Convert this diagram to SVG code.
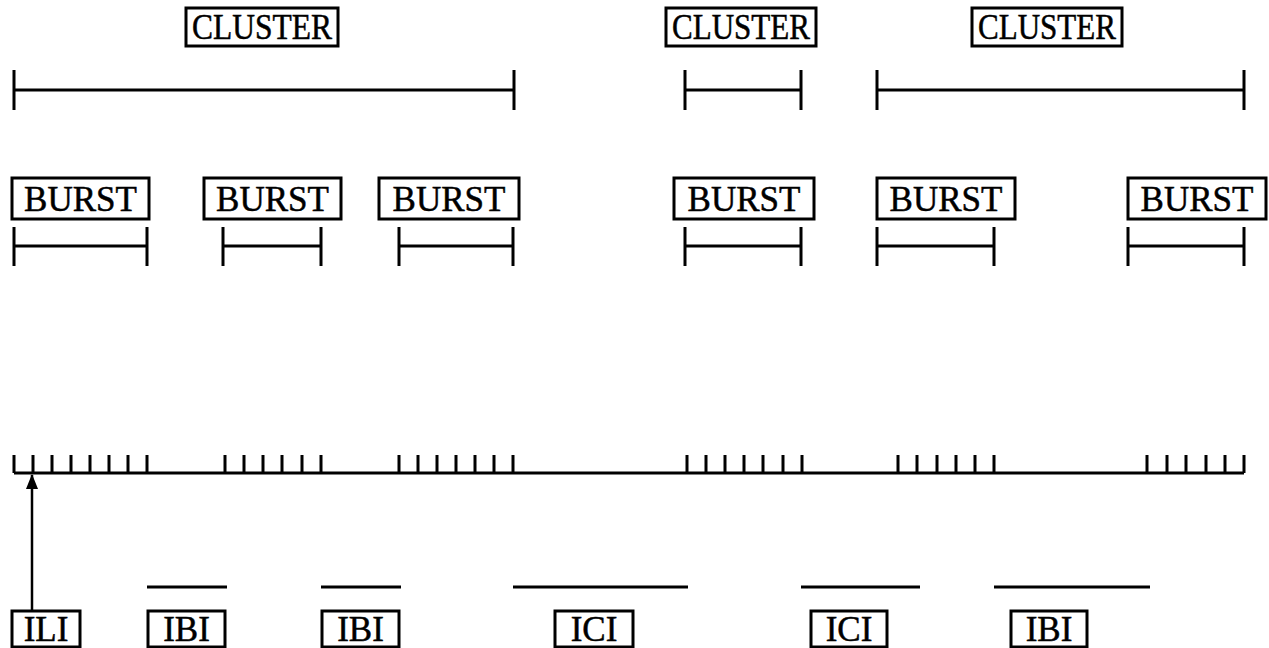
<svg xmlns="http://www.w3.org/2000/svg" width="1269" height="648" viewBox="0 0 1269 648">
<defs>
<style>
.box{fill:#fff;stroke:#000;stroke-width:3}
.lbl{font-family:"Liberation Serif","Times New Roman",serif;font-size:35px;fill:#000;stroke:#000;stroke-width:0.5;text-anchor:middle}
.ln{stroke:#000;stroke-width:3;fill:none}
</style>
<marker id="arr" viewBox="0 0 15 12" refX="14" refY="6" markerWidth="15" markerHeight="12" markerUnits="userSpaceOnUse" orient="auto">
<path d="M0,0 L15,6 L0,12 Z" fill="#000"/>
</marker>
</defs>
<rect width="1269" height="648" fill="#fff"/>

<g id="cluster1"><rect class="box" x="186" y="8" width="152" height="38"/><text class="lbl" x="262" y="39" textLength="140" lengthAdjust="spacingAndGlyphs">CLUSTER</text></g>
<g id="cluster2"><rect class="box" x="666" y="8" width="150" height="38"/><text class="lbl" x="741" y="39" textLength="138" lengthAdjust="spacingAndGlyphs">CLUSTER</text></g>
<g id="cluster3"><rect class="box" x="972" y="8" width="150" height="38"/><text class="lbl" x="1047" y="39" textLength="138" lengthAdjust="spacingAndGlyphs">CLUSTER</text></g>

<g id="burst1"><rect class="box" x="12" y="178" width="137" height="41"/><text class="lbl" x="80.5" y="211">BURST</text></g>
<g id="burst2"><rect class="box" x="204" y="178" width="137" height="41"/><text class="lbl" x="272.5" y="211">BURST</text></g>
<g id="burst3"><rect class="box" x="379" y="178" width="140" height="41"/><text class="lbl" x="449" y="211">BURST</text></g>
<g id="burst4"><rect class="box" x="674" y="178" width="140" height="41"/><text class="lbl" x="744" y="211">BURST</text></g>
<g id="burst5"><rect class="box" x="877" y="178" width="138" height="41"/><text class="lbl" x="946" y="211">BURST</text></g>
<g id="burst6"><rect class="box" x="1128" y="178" width="138" height="41"/><text class="lbl" x="1197" y="211">BURST</text></g>

<g id="ili"><rect class="box" x="12" y="611" width="68" height="36"/><text class="lbl" x="46" y="641">ILI</text></g>
<g id="ibi1"><rect class="box" x="148" y="611" width="77" height="36"/><text class="lbl" x="186.5" y="641">IBI</text></g>
<g id="ibi2"><rect class="box" x="322" y="611" width="77" height="36"/><text class="lbl" x="360.5" y="641">IBI</text></g>
<g id="ici1"><rect class="box" x="555" y="611" width="78" height="36"/><text class="lbl" x="594" y="641">ICI</text></g>
<g id="ici2"><rect class="box" x="811" y="611" width="76" height="36"/><text class="lbl" x="849" y="641">ICI</text></g>
<g id="ibi3"><rect class="box" x="1011" y="611" width="76" height="36"/><text class="lbl" x="1049" y="641">IBI</text></g>

<g id="connectors">
<path class="ln" d="M14,70 V110 M14,90 H514 M514,70 V110"/>
<path class="ln" d="M685,70 V110 M685,90 H801 M801,70 V110"/>
<path class="ln" d="M877,70 V110 M877,90 H1244 M1244,70 V110"/>
<path class="ln" d="M14,227 V266 M14,246 H147 M147,227 V266"/>
<path class="ln" d="M223,227 V266 M223,246 H321 M321,227 V266"/>
<path class="ln" d="M399,227 V266 M399,246 H513 M513,227 V266"/>
<path class="ln" d="M685,227 V266 M685,246 H801 M801,227 V266"/>
<path class="ln" d="M877,227 V266 M877,246 H994 M994,227 V266"/>
<path class="ln" d="M1128,227 V266 M1128,246 H1244 M1244,227 V266"/>
<path class="ln" d="M14,473 H1244"/>
<path class="ln" d="M14,455V473 M33,455V473 M52,455V473 M71,455V473 M90,455V473 M109,455V473 M128,455V473 M147,455V473
M225,455V473 M244,455V473 M263,455V473 M282,455V473 M302,455V473 M321,455V473
M399,455V473 M418,455V473 M437,455V473 M456,455V473 M475,455V473 M494,455V473 M513,455V473
M687,455V473 M706,455V473 M725,455V473 M744,455V473 M763,455V473 M783,455V473 M802,455V473
M898,455V473 M917,455V473 M937,455V473 M956,455V473 M975,455V473 M994,455V473
M1147,455V473 M1167,455V473 M1186,455V473 M1206,455V473 M1225,455V473 M1244,455V473"/>
<path class="ln" d="M147,587 H227 M321,587 H401 M513,587 H688 M801,587 H920 M994,587 H1150"/>
<path stroke="#000" stroke-width="2.5" fill="none" d="M32,611 V475" marker-end="url(#arr)"/>
</g>
</svg>
